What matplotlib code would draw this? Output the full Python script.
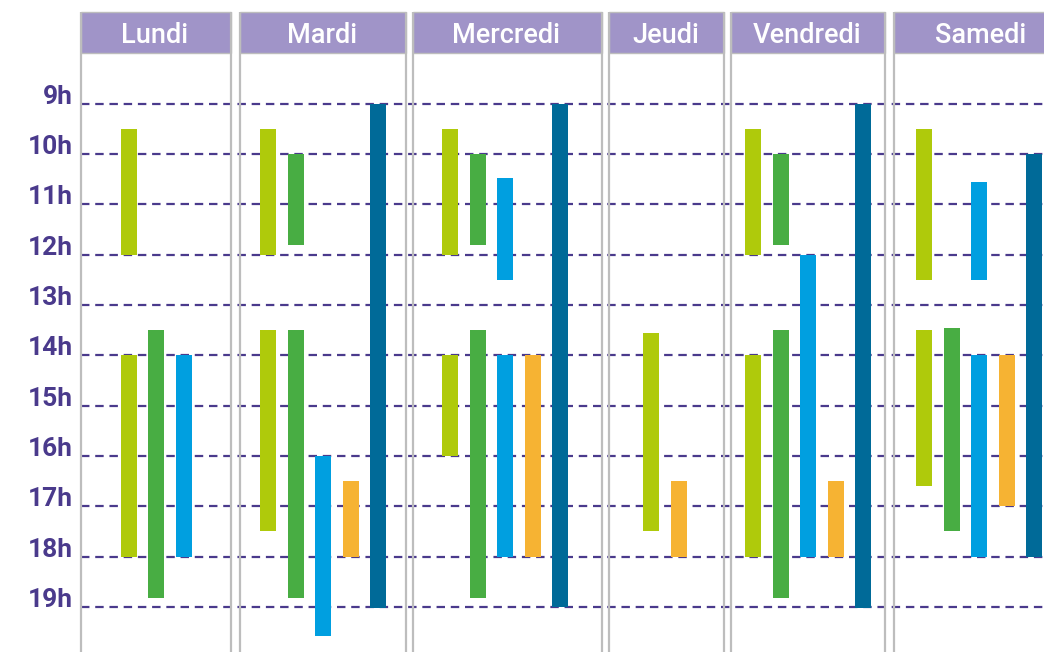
import matplotlib
matplotlib.use('Agg')
import matplotlib.pyplot as plt
from matplotlib.patches import Rectangle

days = ['Lundi', 'Mardi', 'Mercredi', 'Jeudi', 'Vendredi', 'Samedi']
hours = list(range(9, 20))

# (day, start hour, end hour) for each series
lime = [('Lundi', 9.5, 12), ('Lundi', 14, 18),
        ('Mardi', 9.5, 12), ('Mardi', 13.5, 17.5),
        ('Mercredi', 9.5, 12), ('Mercredi', 14, 16),
        ('Jeudi', 13.55, 17.5),
        ('Vendredi', 9.5, 12), ('Vendredi', 14, 18),
        ('Samedi', 9.5, 12.5), ('Samedi', 13.5, 16.6)]
green = [('Lundi', 13.5, 18.83),
         ('Mardi', 10, 11.82), ('Mardi', 13.5, 18.83),
         ('Mercredi', 10, 11.82), ('Mercredi', 13.5, 18.83),
         ('Vendredi', 10, 11.82), ('Vendredi', 13.5, 18.83),
         ('Samedi', 13.45, 17.5)]
blue = [('Lundi', 14, 18),
        ('Mardi', 16, 19.57),
        ('Mercredi', 10.48, 12.5), ('Mercredi', 14, 18),
        ('Vendredi', 12, 18),
        ('Samedi', 10.55, 12.5), ('Samedi', 14, 18)]
orange = [('Mardi', 16.5, 18), ('Mercredi', 14, 18), ('Jeudi', 16.5, 18),
          ('Vendredi', 16.5, 18), ('Samedi', 14, 17)]
darkblue = [('Mardi', 9, 19.03), ('Mercredi', 9, 19), ('Vendredi', 9, 19.03),
            ('Samedi', 10, 18)]

series = [lime, green, blue, orange, darkblue]
colors = ['#afca0b', '#48ad43', '#009fe0', '#f6b333', '#006a98']

# column layout (pixels across the figure)
col_edges = [(81, 231), (240, 406), (413, 602), (609, 724), (731, 885), (894, 1070)]
bar_centres = [156, 323, 505, 665, 808, 979]
slot_gap = 27.5
bar_w = 16

purple = '#4a3a8c'
header_col = '#a094c8'
grid_gray = '#bdbdbd'

fig = plt.figure(figsize=(10.44, 6.52), dpi=100)
ax = fig.add_axes([0, 0, 1, 1])
ax.set_xlim(0, 1044)
ax.set_ylim(19.894, 6.944)
ax.axis('off')

head_top, head_bot = 7.18, 8.0

for d, (x0, x1) in zip(days, col_edges):
    ax.add_patch(Rectangle((x0, head_top), x1 - x0, head_bot - head_top,
                           facecolor=header_col, edgecolor=grid_gray, lw=1, zorder=2))
    ax.vlines([x0, x1], head_top, 19.894, color=grid_gray, lw=1.6, zorder=2)
    ax.text((x0 + x1) / 2 - 1, 7.80, d, ha='center', va='baseline', color='white',
            fontsize=19.5, family='Roboto', fontweight='medium', zorder=4)

ax.hlines(hours, 81, 1044, color=purple, lw=1.6, linestyles=(0, (3.8, 2.6)), zorder=1)
for h in hours:
    ax.text(73, h, f'{h}h', ha='right', va='baseline', color=purple,
            fontsize=19, family='Roboto', fontweight='bold')

# bars: series present in a day get consecutive slots, centred in the column
for d, cx in zip(days, bar_centres):
    present = [i for i, s in enumerate(series) if any(seg[0] == d for seg in s)]
    for k, i in enumerate(present):
        x = cx + (k - (len(present) - 1) / 2) * slot_gap
        for day, start, end in series[i]:
            if day == d:
                ax.bar(x, end - start, bottom=start, width=bar_w,
                       color=colors[i], zorder=3)

fig.savefig('out.png', dpi=100)
